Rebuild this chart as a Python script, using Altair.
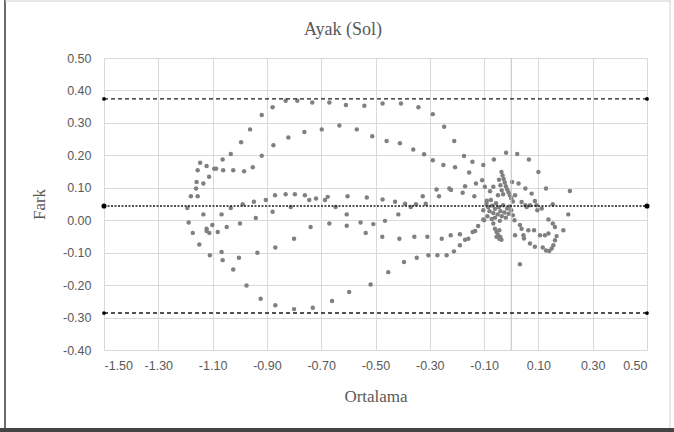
import altair as alt
import pandas as pd

# Bland-Altman style agreement plot: mean of two measurements vs. their difference
mean_vals = [
    -1.146, -1.122, -1.155, -1.113, -1.159, -1.134, -1.161, -1.180, -1.155, -1.193, -1.134, -1.188, -1.122,
    -0.919, -0.962, -0.995, -1.033, -1.063, -1.087, -1.094, -1.061, -1.024, -0.984, -0.952, -0.919, -0.876,
    -0.821, -0.762, -0.698, -0.633, -0.879, -0.831, -0.788, -0.733, -0.670, -0.609,
    -0.870, -0.831, -0.797, -0.760, -0.744, -0.719, -0.686, -0.676, -0.603, -0.647, -0.812, -0.879, -0.904,
    -0.948, -0.989, -1.033, -1.067, -0.941, -0.999, -1.048, -1.101, -0.739, -0.670, -0.606, -0.606,
    -1.173, -1.149, -1.122, -1.112, -1.081, -1.067, -1.110, -1.063, -1.024, -1.003, -0.935, -0.975, -0.923,
    -0.869, -0.800, -0.731, -0.660, -0.597, -0.869, -0.800,
    -0.541, -0.474, -0.406, -0.342, -0.289, -0.247, -0.210, -0.174, -0.143, -0.155, -0.103, -0.064, -0.019,
    -0.569, -0.512, -0.459, -0.410, -0.361, -0.321, -0.289, -0.250, -0.207,
    -0.130, -0.107, -0.170, -0.179, -0.136, -0.228, -0.222, -0.275, -0.266, -0.097, -0.066, -0.078, -0.049,
    -0.326, -0.315, -0.351, -0.370, -0.391, -0.428, -0.474, -0.532,
    -0.416, -0.465, -0.508, -0.555, -0.122, -0.103,
    -0.536, -0.475, -0.412, -0.357, -0.309, -0.256, -0.223, -0.189, -0.170, -0.158, -0.142, -0.133,
    -0.189, -0.211, -0.238, -0.272, -0.305, -0.348, -0.395, -0.453, -0.518,
    0.022, 0.065, 0.100, 0.128, 0.216, 0.210, 0.153, 0.192,
    -0.036, -0.032, -0.028, -0.024, -0.020, -0.015, -0.010, -0.005, 0.000, 0.006,
    -0.045, -0.040, -0.035, -0.030,
    0.003, 0.027, 0.052, 0.075, 0.014, 0.038, 0.052, 0.057, 0.069, 0.087, 0.093, 0.096, 0.112,
    -0.103, -0.091, -0.090, -0.085, -0.080, -0.075, -0.070, -0.066, -0.060, -0.056, -0.050, -0.046, -0.040,
    -0.035, -0.030, -0.025, -0.020, -0.015, -0.060, -0.072, -0.042, -0.010, -0.005, 0.000, 0.006, 0.012,
    -0.100, -0.088,
    -0.066, -0.060, -0.054, -0.048, -0.044, -0.040, -0.054, -0.044, -0.036,
    0.069, 0.087, 0.116, 0.128, 0.140, 0.149, 0.155, 0.161, 0.167, 0.161, 0.153, 0.137, 0.137, 0.124,
    0.106, 0.084, 0.063, 0.045, 0.047, 0.038, 0.032, 0.014,
    0.032,
]
diff_vals = [
    0.177, 0.167, 0.154, 0.134, 0.118, 0.113, 0.098, 0.074, 0.074, 0.038, 0.018, -0.007, -0.026,
    0.324, 0.280, 0.240, 0.204, 0.187, 0.159, 0.159, 0.154, 0.154, 0.151, 0.163, 0.199, 0.231,
    0.255, 0.272, 0.280, 0.292, 0.348, 0.368, 0.368, 0.363, 0.363, 0.355,
    0.077, 0.080, 0.080, 0.077, 0.062, 0.067, 0.062, 0.072, 0.074, 0.041, 0.041, 0.026, 0.062,
    0.057, 0.049, 0.038, 0.018, 0.007, -0.010, -0.021, -0.015, -0.021, -0.010, -0.017, 0.018,
    -0.039, -0.075, -0.033, -0.039, -0.036, -0.098, -0.108, -0.123, -0.152, -0.116, -0.100, -0.201, -0.242,
    -0.262, -0.274, -0.270, -0.249, -0.221, -0.084, -0.057,
    0.353, 0.360, 0.360, 0.348, 0.327, 0.288, 0.244, 0.198, 0.180, 0.147, 0.170, 0.187, 0.208,
    0.280, 0.259, 0.244, 0.237, 0.218, 0.203, 0.185, 0.170, 0.163,
    0.113, 0.123, 0.105, 0.085, 0.074, 0.098, 0.093, 0.095, 0.074, 0.103, 0.103, 0.089, 0.077,
    0.074, 0.051, 0.049, 0.041, 0.051, 0.057, 0.064, 0.070,
    0.018, -0.002, -0.012, -0.007, -0.018, 0.002,
    -0.039, -0.051, -0.057, -0.051, -0.051, -0.057, -0.046, -0.043, -0.060, -0.057, -0.036, -0.033,
    -0.077, -0.096, -0.108, -0.108, -0.108, -0.116, -0.129, -0.160, -0.198,
    0.204, 0.187, 0.149, 0.098, 0.090, 0.018, 0.049, -0.031,
    0.149, 0.138, 0.127, 0.116, 0.105, 0.095, 0.086, 0.077, 0.068, 0.058,
    0.125, 0.108, 0.092, 0.080,
    0.118, 0.113, 0.098, 0.082, 0.077, 0.056, 0.046, 0.041, 0.046, 0.059, 0.046, 0.031, 0.036,
    0.031, 0.051, 0.060, 0.040, 0.028, 0.062, 0.045, 0.022, 0.035, 0.052, 0.018, 0.040, 0.028,
    0.012, 0.046, 0.024, 0.008, 0.036, 0.008, 0.004, -0.002, 0.020, 0.042, 0.031, 0.015, 0.000,
    0.000, 0.012,
    -0.010, -0.026, -0.036, -0.046, -0.057, -0.052, -0.051, -0.031, -0.060,
    -0.072, -0.082, -0.084, -0.093, -0.095, -0.087, -0.077, -0.062, -0.049, -0.021, -0.010, 0.002, -0.041, -0.046,
    -0.046, -0.031, -0.031, -0.046, -0.056, -0.026, -0.015, -0.046,
    -0.136,
]

# Bias and limits of agreement
line_names = ["upper", "bias", "lower"]
line_levels = [0.374, 0.044, -0.286]
x_ticks = [-1.5, -1.3, -1.1, -0.9, -0.7, -0.5, -0.3, -0.1, 0.1, 0.3, 0.5]
y_ticks = [-0.4, -0.3, -0.2, -0.1, 0.0, 0.1, 0.2, 0.3, 0.4, 0.5]
x_range = [-1.5, 0.5]
y_range = [-0.4, 0.5]
chart_title = "Ayak (Sol)"

points = pd.DataFrame({"Ortalama": mean_vals, "Fark": diff_vals})
lines = pd.DataFrame(
    [{"name": n, "level": v, "x0": x_range[0], "x1": x_range[1]} for n, v in zip(line_names, line_levels)]
)
ends = pd.DataFrame(
    [{"name": n, "level": v, "xe": xe} for n, v in zip(line_names, line_levels) for xe in x_range]
)

GRAY = "#595959"
label_expr = "replace(format(datum.value, '.2f'), '\u2212', '-')"

x_scale = alt.Scale(domain=x_range, nice=False, zero=False)
y_scale = alt.Scale(domain=y_range, nice=False, zero=False)
# one shared axis definition for every layer, so the merged axes agree
x_axis = alt.Axis(values=x_ticks, labelExpr=label_expr, title="Ortalama", labelOverlap=False)
y_axis = alt.Axis(values=y_ticks, labelExpr=label_expr, title="Fark", labelOverlap=False)

dots = alt.Chart(points).mark_circle(size=20, color="#808080", opacity=1).encode(
    x=alt.X("Ortalama:Q", scale=x_scale, axis=x_axis),
    y=alt.Y("Fark:Q", scale=y_scale, axis=y_axis),
)

# vertical axis line at x = 0
zero_line = alt.Chart(pd.DataFrame({"z": [0.0]})).mark_rule(
    color="#bfbfbf", strokeWidth=1
).encode(x=alt.X("z:Q", scale=x_scale, axis=x_axis))

loa = alt.Chart(lines).transform_filter("datum.name != 'bias'").mark_rule(
    color="#1a1a1a", strokeWidth=1.3, strokeDash=[4, 3]
).encode(
    x=alt.X("x0:Q", scale=x_scale, axis=x_axis),
    x2="x1:Q",
    y=alt.Y("level:Q", scale=y_scale, axis=y_axis),
)
bias = alt.Chart(lines).transform_filter("datum.name == 'bias'").mark_rule(
    color="#1a1a1a", strokeWidth=1.4, strokeDash=[2, 1.5]
).encode(
    x=alt.X("x0:Q", scale=x_scale, axis=x_axis),
    x2="x1:Q",
    y=alt.Y("level:Q", scale=y_scale, axis=y_axis),
)
end_marks = alt.Chart(ends).mark_circle(color="#000000", opacity=1).encode(
    x=alt.X("xe:Q", scale=x_scale, axis=x_axis),
    y=alt.Y("level:Q", scale=y_scale, axis=y_axis),
    size=alt.condition("datum.name == 'bias'", alt.value(26), alt.value(14)),
)

# chart heading, placed above the plot area
heading = alt.Chart(pd.DataFrame({"t": [chart_title]})).mark_text(
    font="Liberation Serif", fontSize=18, color=GRAY, align="center", baseline="middle"
).encode(text="t:N", x=alt.value(239), y=alt.value(-28))

# outer frame of the chart
frame_left = alt.Chart(pd.DataFrame({"k": [0]})).mark_rule(color="#3a3a3a", strokeWidth=1.5).encode(
    x=alt.value(-99), y=alt.value(-58), y2=alt.value(374)
)
frame_top = alt.Chart(pd.DataFrame({"k": [0]})).mark_rule(color="#d0d0d0", strokeWidth=1).encode(
    x=alt.value(-99), x2=alt.value(566), y=alt.value(-57)
)
frame_right = alt.Chart(pd.DataFrame({"k": [0]})).mark_rule(color="#d0d0d0", strokeWidth=1).encode(
    x=alt.value(566), y=alt.value(-58), y2=alt.value(371)
)
frame_bottom = alt.Chart(pd.DataFrame({"k": [0]})).mark_rule(color="#444444", strokeWidth=4).encode(
    x=alt.value(-104), x2=alt.value(570), y=alt.value(372)
)

chart = (
    alt.layer(
        dots, zero_line, loa, bias, end_marks, heading,
        frame_left, frame_top, frame_right, frame_bottom,
    )
    .properties(
        width=543,
        height=292,
        autosize=alt.AutoSizeParams(type="none"),
        padding={"left": 104, "top": 58, "right": 27, "bottom": 82},
        background="white",
    )
    .configure_view(strokeWidth=0)
    .configure_axis(
        grid=True,
        gridColor="#d9d9d9",
        gridWidth=1,
        domain=False,
        ticks=False,
        labelFont="Liberation Sans",
        labelFontSize=12.5,
        labelColor=GRAY,
        titleFont="Liberation Serif",
        titleFontSize=17,
        titleFontWeight="normal",
        titleColor=GRAY,
    )
    .configure_axisX(labelPadding=9, titlePadding=17)
    .configure_axisY(labelPadding=13, titlePadding=14)
)

chart.save("out.html", embed_options={"renderer": "svg", "actions": False})
